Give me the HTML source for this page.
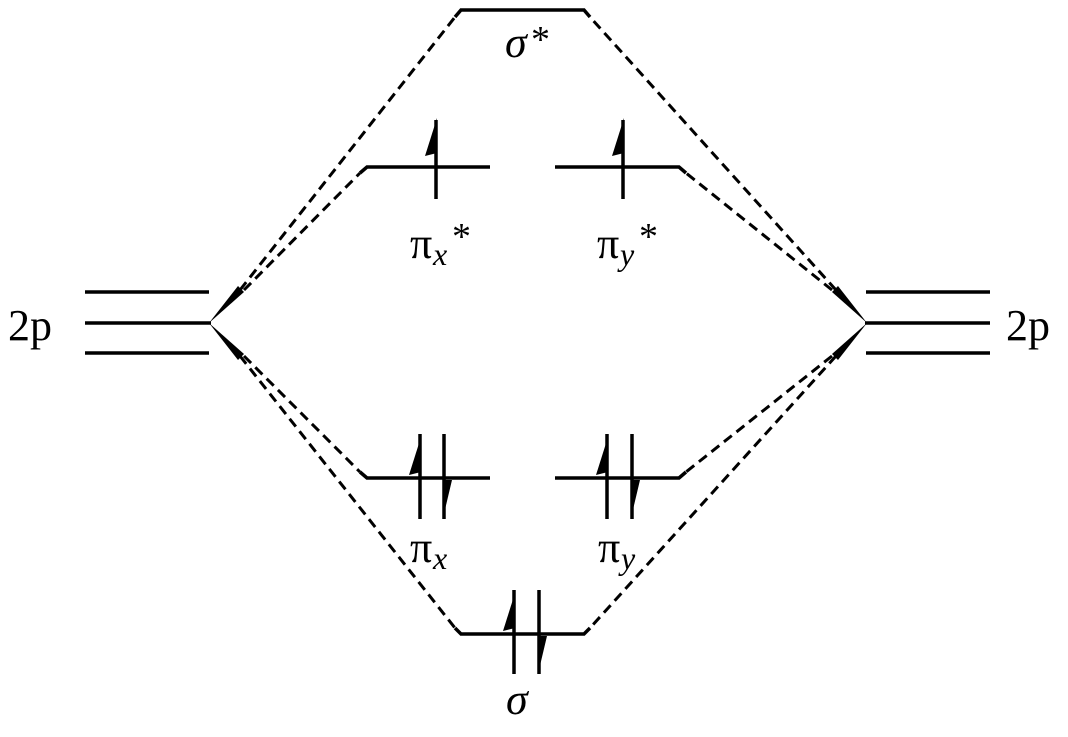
<!DOCTYPE html>
<html><head><meta charset="utf-8"><style>
html,body{margin:0;padding:0;background:#fff;}
svg{display:block;}
</style></head><body>
<svg width="1068" height="737" viewBox="0 0 1068 737" xmlns="http://www.w3.org/2000/svg">
<g stroke="#000" stroke-width="3.5" fill="none">
<line x1="85" y1="292" x2="209" y2="292"/>
<line x1="85" y1="323" x2="211" y2="323"/>
<line x1="85" y1="353" x2="209" y2="353"/>
<line x1="866" y1="292" x2="990" y2="292"/>
<line x1="865" y1="323" x2="990" y2="323"/>
<line x1="866" y1="353" x2="990" y2="353"/>
<polyline points="455,17 461,10 584,10 590,17"/>
<polyline points="360,173 367,167 490,167"/>
<polyline points="555,167 679,167 686,173"/>
<polyline points="360,472 367,478 490,478"/>
<polyline points="555,478 679,478 686,472"/>
<polyline points="455,628 461,634 584,634 590,628"/>
</g>
<g stroke="#000" stroke-width="3" fill="none" stroke-dasharray="10,6">
<line x1="240" y1="290" x2="455" y2="17"/>
<line x1="244" y1="290" x2="360" y2="173"/>
<line x1="244" y1="356" x2="360" y2="472"/>
<line x1="240" y1="356" x2="455" y2="628"/>
<line x1="836" y1="290" x2="590" y2="17"/>
<line x1="832" y1="290" x2="686" y2="173"/>
<line x1="832" y1="356" x2="686" y2="472"/>
<line x1="836" y1="356" x2="590" y2="628"/>
</g>
<g fill="#000">
<polygon points="209,323 238,286 244,292"/>
<polygon points="209,323 244,354 238,360"/>
<polygon points="867,323 838,286 832,292"/>
<polygon points="867,323 832,354 838,360"/>
</g>
<g stroke="#000" stroke-width="3.5">
<line x1="436" y1="120" x2="436" y2="199"/>
<line x1="623" y1="120" x2="623" y2="199"/>
<line x1="420" y1="434" x2="420" y2="519"/>
<line x1="444" y1="434" x2="444" y2="519"/>
<line x1="607" y1="434" x2="607" y2="519"/>
<line x1="632" y1="434" x2="632" y2="519"/>
<line x1="514" y1="590" x2="514" y2="674"/>
<line x1="539" y1="590" x2="539" y2="674"/>
</g>
<g fill="#000">
<polygon points="437,118 425,156 437,153"/>
<polygon points="624,118 612,156 624,153"/>
<polygon points="421,437 409,475 421,472"/>
<polygon points="608,437 596,475 608,472"/>
<polygon points="515,593 503,631 515,628"/>
<polygon points="443,480 452,480 443,518"/>
<polygon points="631,480 640,480 631,518"/>
<polygon points="538,636 547,636 538,674"/>
</g>
<g font-family="'Liberation Serif', serif" fill="#000">
<text x="8" y="340" font-size="44">2p</text>
<text x="1006" y="340" font-size="44">2p</text>
<text x="505" y="57" font-size="44" font-style="italic">σ</text>
<text x="531" y="52" font-size="38">*</text>
<text x="410" y="258" font-size="44">π</text>
<text x="433" y="265" font-size="32" font-style="italic">x</text>
<text x="452" y="249" font-size="38">*</text>
<text x="597" y="258" font-size="44">π</text>
<text x="620" y="265" font-size="32" font-style="italic">y</text>
<text x="639" y="249" font-size="38">*</text>
<text x="410" y="562" font-size="44">π</text>
<text x="433" y="569" font-size="32" font-style="italic">x</text>
<text x="598" y="562" font-size="44">π</text>
<text x="621" y="569" font-size="32" font-style="italic">y</text>
<text x="506" y="714" font-size="44" font-style="italic">σ</text>
</g>
</svg>
</body></html>
